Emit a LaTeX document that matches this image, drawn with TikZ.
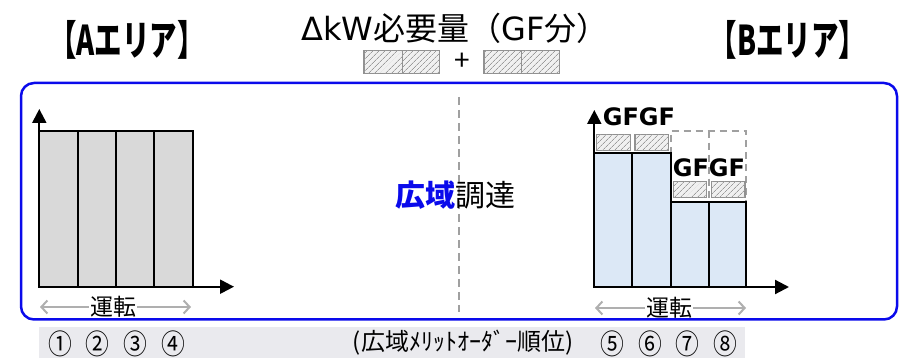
\documentclass[tikz,border=0pt]{standalone}
\usepackage{fontspec}
\setmainfont{Noto Sans CJK JP}
\newfontfamily\latfont{DejaVu Sans}
\usetikzlibrary{arrows.meta,patterns.meta}
\definecolor{barA}{RGB}{217,217,217}
\definecolor{barB}{RGB}{220,232,246}
\definecolor{frameblue}{RGB}{10,10,235}
\definecolor{hatchborder}{RGB}{145,145,145}
\definecolor{hatchfill}{RGB}{240,240,240}
\definecolor{hatchline}{RGB}{155,155,155}
\definecolor{dashgray}{RGB}{160,160,160}
\definecolor{arrgray}{RGB}{175,175,175}
\definecolor{bandgray}{RGB}{234,234,238}
\begin{document}
\begin{tikzpicture}[x=1pt,y=-1pt,
  abar/.style={draw=black,line width=2pt,fill=barA},
  bbar/.style={draw=black,line width=2pt,fill=barB},
  hatchbox/.style={draw=hatchborder,line width=1.3pt,fill=hatchfill,
    postaction={pattern={Lines[angle=45,distance=4pt,line width=0.7pt]},pattern color=hatchline}},
  ghost/.style={draw=dashgray,line width=2pt,dash pattern=on 7pt off 5pt},
  axis/.style={draw=black,line width=2.2pt,-{Triangle[length=14pt,width=14pt]}},
  runarr/.style={draw=arrgray,line width=2pt,-{Straight Barb[length=6pt,width=13pt,line width=2pt]}},
  title/.style={font=\fontsize{41}{43}\selectfont\bfseries,inner sep=0pt},
  gflabel/.style={font=\fontsize{24}{26}\selectfont\latfont\bfseries,inner sep=0pt},
  runlabel/.style={font=\fontsize{23}{25}\selectfont,inner sep=1pt},
  numlabel/.style={font=\fontsize{28}{30}\selectfont,inner sep=0pt}
]
\useasboundingbox (0,0) rectangle (903,358);
% titles
\node[title] (ta) at (127,39.5) {\scalebox{0.67}[1]{【Aエリア】}};
\node[title] (tb) at (788,39.5) {\scalebox{0.67}[1]{【Bエリア】}};
\node[font=\fontsize{32}{34}\selectfont,inner sep=0pt] (tc) at (455,28) {{\latfont ΔkW}必要量（{\latfont GF}分）};
% legend hatch boxes
\draw[hatchbox] (364,50.7) rectangle (402.3,73.3);
\draw[hatchbox] (402.3,50.7) rectangle (439.3,73.3);
\node[font=\fontsize{28}{30}\selectfont,inner sep=0pt] (plus) at (462,62) {+};
\draw[hatchbox] (484,50.7) rectangle (521.7,73.3);
\draw[hatchbox] (521.7,50.7) rectangle (559.3,73.3);
% frame
\draw[frameblue,line width=2.5pt,rounded corners=13pt] (21,83) rectangle (897,319.5);
% centre dashed line
\coordinate (ct) at (459,97);
\coordinate (cb) at (459,312);
\draw[dashgray,line width=2pt,dash pattern=on 8pt off 5pt] (ct) -- (cb);
% centre text
\node[font=\fontsize{30}{32}\selectfont,inner sep=0pt] (wide) at (455,195) {\textcolor{frameblue}{\bfseries 広域}調達};
% A chart
\foreach \x in {39.3,77.6,116,154.3}{
  \draw[abar] (\x,130.7) rectangle ++(38.4,156);
}
\coordinate (Ao) at (39.3,286.7);
\coordinate (Ay) at (39.3,109);
\coordinate (Ax) at (234,286.7);
\draw[axis] (Ao) -- (Ay);
\draw[axis] (Ao) -- (Ax);
\node[runlabel] (ra) at (113,307) {運転};
\coordinate (ral) at (40,307);
\coordinate (rar) at (191,307);
\draw[runarr] (ra) -- (ral);
\draw[runarr] (ra) -- (rar);
% B chart
\draw[ghost] (670.7,201.7) -- (670.7,130.7) -- (746,130.7) -- (746,201.7);
\draw[ghost] (709,130.7) -- (709,201.7);
\draw[bbar] (594.3,153.3) rectangle (632.3,287);
\draw[bbar] (632.3,153.3) rectangle (670.7,287);
\draw[bbar] (670.7,201.7) rectangle (709,287);
\draw[bbar] (709,201.7) rectangle (746,287);
\draw[hatchbox] (596.8,134.3) rectangle (630.5,150.5);
\draw[hatchbox] (635,134.3) rectangle (668.3,150.5);
\draw[hatchbox] (673.3,181.7) rectangle (706.7,197.5);
\draw[hatchbox] (711.7,181.7) rectangle (745,197.5);
\coordinate (Bo) at (594.3,287);
\coordinate (By) at (594.3,110);
\coordinate (Bx) at (789,287);
\draw[axis] (Bo) -- (By);
\draw[axis] (Bo) -- (Bx);
\node[gflabel] (g1) at (621,117) {GF};
\node[gflabel] (g2) at (657,117) {GF};
\node[gflabel] (g3) at (691,168) {GF};
\node[gflabel] (g4) at (727,168) {GF};
\node[runlabel] (rb) at (669,308) {運転};
\coordinate (rbl) at (595,308);
\coordinate (rbr) at (746,308);
\draw[runarr] (rb) -- (rbl);
\draw[runarr] (rb) -- (rbr);
% bottom band
\fill[bandgray] (39,327.5) rectangle (745,358);
\node[numlabel] (n1) at (60,344) {\scalebox{0.85}[1]{①}};
\node[numlabel] (n2) at (97.5,344) {\scalebox{0.85}[1]{②}};
\node[numlabel] (n3) at (135,344) {\scalebox{0.85}[1]{③}};
\node[numlabel] (n4) at (173,344) {\scalebox{0.85}[1]{④}};
\node[font=\fontsize{24}{26}\selectfont,inner sep=0pt] (order) at (463,343) {(広域ﾒﾘｯﾄｵｰﾀﾞｰ順位)};
\node[numlabel] (n5) at (612,344) {\scalebox{0.85}[1]{⑤}};
\node[numlabel] (n6) at (650,344) {\scalebox{0.85}[1]{⑥}};
\node[numlabel] (n7) at (687,344) {\scalebox{0.85}[1]{⑦}};
\node[numlabel] (n8) at (725,344) {\scalebox{0.85}[1]{⑧}};
\end{tikzpicture}
\end{document}
